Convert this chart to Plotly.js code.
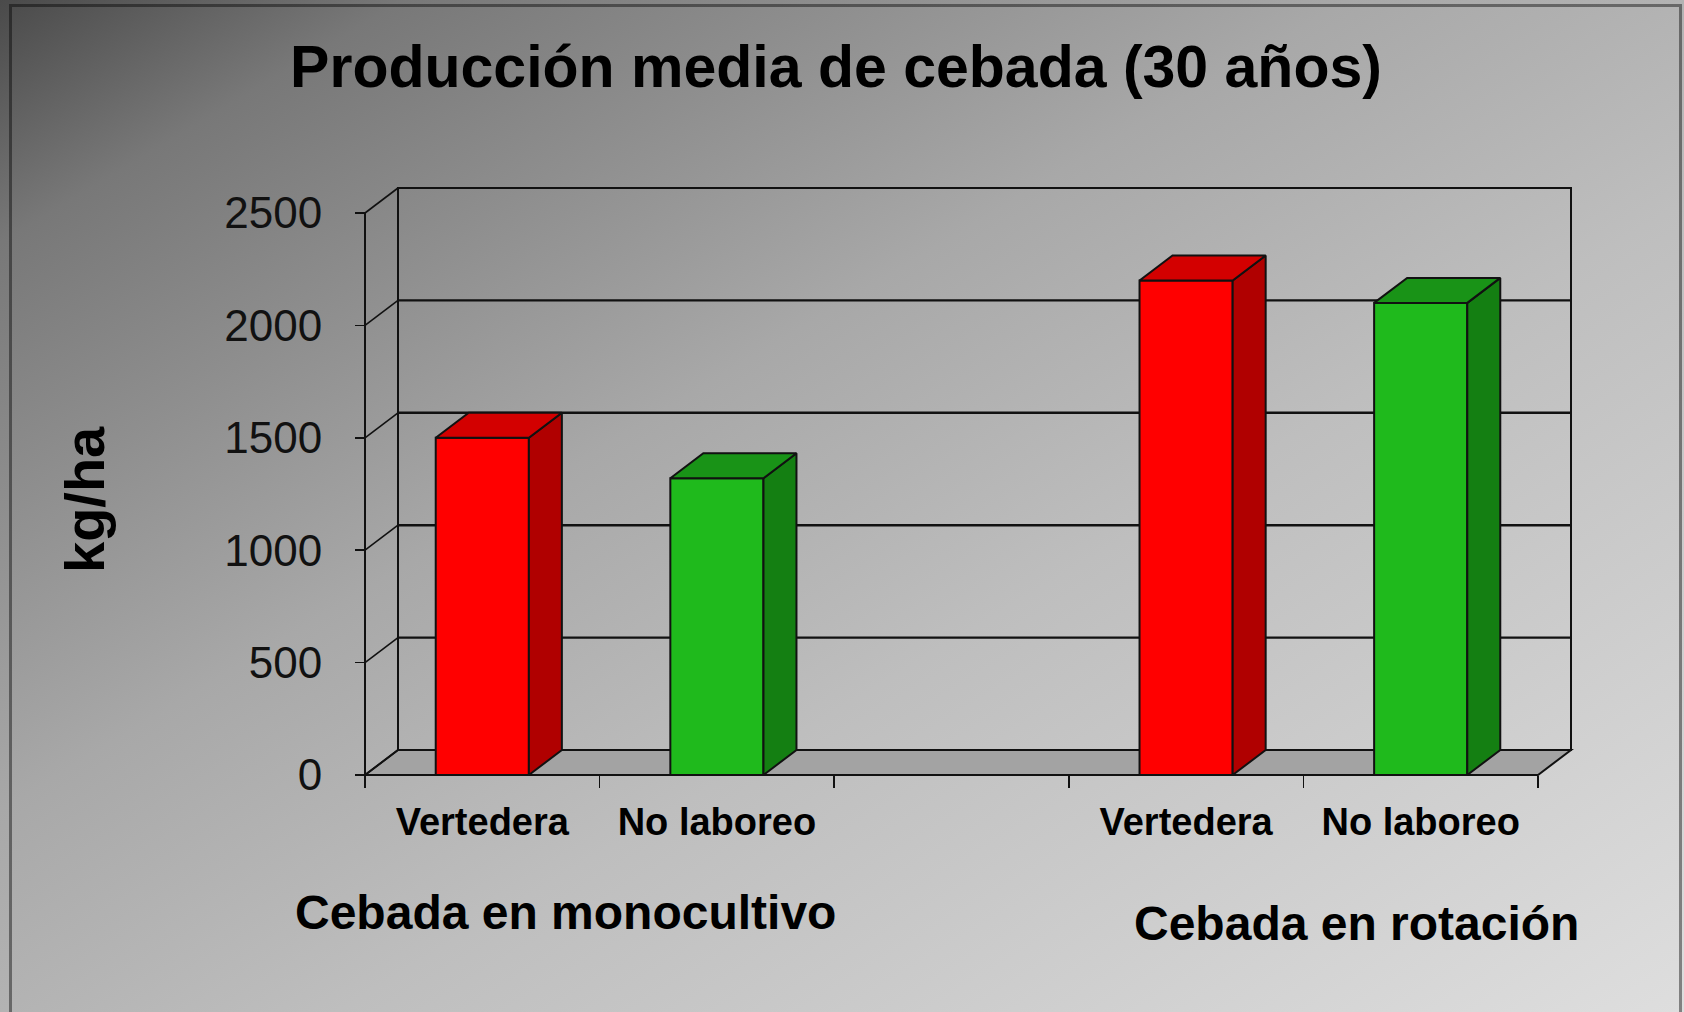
<!DOCTYPE html>
<html>
<head>
<meta charset="utf-8">
<script src="https://cdn.plot.ly/plotly-3.0.1.min.js"></script>
<style>
  html, body { margin: 0; padding: 0; }
  body {
    width: 1684px; height: 1012px; overflow: hidden; position: relative;
    background: linear-gradient(to bottom right, #4a4a4a 0%, #787878 12%, #8e8e8e 25%, #a8a8a8 40%, #bebebe 60%, #dedede 100%);
  }
  #frame {
    position: absolute; left: 9px; top: 4px; width: 1673px; height: 1030px;
    border: 3px solid rgba(0,0,0,0.42); border-bottom: none; box-sizing: border-box;
  }
  #chart { position: absolute; left: 0; top: 0; width: 1684px; height: 1012px; }
</style>
</head>
<body>
<div id="frame"></div>
<div id="chart"></div>
<script>
// Barley yield, 30-year mean (kg/ha), by tillage system and crop sequence
const groups = ["Cebada en monocultivo", "Cebada en rotación"];
const tillage = ["Vertedera", "No laboreo"];
const vertedera = [1500, 2200];
const noLaboreo = [1320, 2100];
const yTicks = [0, 500, 1000, 1500, 2000, 2500];

const seriesValues = [vertedera, noLaboreo];
const faceColors = [
  { front: "#ff0000", side: "#b00000", top: "#d30000" },
  { front: "#1fba1c", side: "#147f12", top: "#199317" }
];

// ---- page and pseudo-3D geometry ----
const W = 1684, H = 1012;
const M = { l: 359, r: 107, t: 182, b: 231 };
const PAD = 6;                       // room around the box so edge lines are not clipped
const DEPTH = { x: 33, y: 25 };      // depth offset of the back wall, in pixels
const FONT = "Liberation Sans, Arial, sans-serif";
const INK = "#111";

const plotW = W - M.l - M.r, plotH = H - M.t - M.b;
const slotsPerGroup = tillage.length + 1;           // one empty slot between groups
const nSlots = groups.length * slotsPerGroup - 1;
const yMax = yTicks[yTicks.length - 1];
const xPer = (plotW - 2 * PAD - DEPTH.x) / nSlots;  // px per category slot
const yPer = (plotH - 2 * PAD - DEPTH.y) / yMax;    // px per kg/ha
const dx = DEPTH.x / xPer, dy = DEPTH.y / yPer;     // depth offset in data units
const x0 = -0.5, x1 = nSlots - 0.5;
const xRange = [x0 - PAD / xPer, x1 + dx + PAD / xPer];
const yRange = [-PAD / yPer, yMax + dy + PAD / yPer];
const BAR_W = 0.397;

const slotX = (gi, k) => gi * slotsPerGroup + k;
const px2paperX = p => (p - M.l) / plotW;
const px2paperY = p => (H - M.b - p) / plotH;

// ---- traces: front faces as bars, side and top faces as filled polygons ----
const traces = [];
seriesValues.forEach((vals, k) => {
  const xs = groups.map((g, gi) => slotX(gi, k));
  traces.push({
    type: "bar", name: tillage[k], x: xs, y: vals, width: BAR_W,
    marker: { color: faceColors[k].front, line: { color: INK, width: 2 } },
    hoverinfo: "skip", showlegend: false
  });
});
seriesValues.forEach((vals, k) => {
  const sx = [], sy = [], tx = [], ty = [];
  groups.forEach((g, gi) => {
    const xc = slotX(gi, k), v = vals[gi];
    const xl = xc - BAR_W / 2, xr = xc + BAR_W / 2;
    sx.push(xr, xr, xr + dx, xr + dx, xr, null);
    sy.push(0, v, v + dy, dy, 0, null);
    tx.push(xl, xr, xr + dx, xl + dx, xl, null);
    ty.push(v, v, v + dy, v + dy, v, null);
  });
  traces.push({
    type: "scatter", mode: "lines", x: sx, y: sy, fill: "toself",
    fillcolor: faceColors[k].side, line: { color: INK, width: 2 },
    hoverinfo: "skip", showlegend: false
  });
  traces.push({
    type: "scatter", mode: "lines", x: tx, y: ty, fill: "toself",
    fillcolor: faceColors[k].top, line: { color: INK, width: 2 },
    hoverinfo: "skip", showlegend: false
  });
});

// ---- box: floor, back wall, gridlines, side-wall edges ----
const line = (xa, ya, xb, yb, w) => ({
  type: "line", xref: "x", yref: "y", layer: "below",
  x0: xa, y0: ya, x1: xb, y1: yb, line: { color: INK, width: w || 2 }
});
const shapes = [];
shapes.push({
  type: "path", xref: "x", yref: "y", layer: "below",
  path: `M ${x0},0 L ${x1},0 L ${x1 + dx},${dy} L ${x0 + dx},${dy} Z`,
  fillcolor: "#a3a3a3", line: { color: INK, width: 2 }
});
shapes.push({
  type: "rect", xref: "x", yref: "y", layer: "below",
  x0: x0 + dx, x1: x1 + dx, y0: dy, y1: yMax + dy,
  line: { color: INK, width: 2 }
});
yTicks.forEach(t => {
  if (t > 0 && t < yMax) shapes.push(line(x0 + dx, t + dy, x1 + dx, t + dy, 2.4));
  shapes.push(line(x0, t, x0 + dx, t + dy, 1.6));
});
shapes.push(line(x0, 0, x0, yMax, 2));

// ---- tick positions ----
const centers = [], labels = [];
groups.forEach((g, gi) => tillage.forEach((t, k) => { centers.push(slotX(gi, k)); labels.push(t); }));
const bounds = [];
for (let i = 0; i <= nSlots; i++) bounds.push(x0 + i);

const layout = {
  width: W, height: H, autosize: false,
  margin: { l: M.l, r: M.r, t: M.t, b: M.b, autoexpand: false },
  paper_bgcolor: "rgba(0,0,0,0)", plot_bgcolor: "rgba(0,0,0,0)",
  barmode: "overlay", hovermode: false,
  font: { family: FONT, color: "#000" },
  title: {
    text: "Producción media de cebada (30 años)",
    font: { family: FONT, size: 59, weight: 700, color: "#000" },
    xref: "container", x: 836 / W, xanchor: "center",
    yref: "container", y: 1 - 66 / H, yanchor: "middle"
  },
  xaxis: {
    range: xRange, domain: [0, 1], anchor: "free",
    position: (0 - yRange[0]) / (yRange[1] - yRange[0]),
    tickmode: "array", tickvals: centers, ticktext: labels, ticks: "",
    tickfont: { family: FONT, size: 38, weight: 700, color: "#000" },
    ticklabelstandoff: 21,
    showgrid: false, zeroline: false, showline: false,
    minor: { tickmode: "array", tickvals: bounds, ticks: "outside", ticklen: 12,
             tickwidth: 1.5, tickcolor: INK, showgrid: false }
  },
  yaxis: {
    range: yRange, domain: [0, 1], anchor: "free",
    position: (x0 - xRange[0]) / (xRange[1] - xRange[0]),
    tickmode: "array", tickvals: yTicks, ticks: "outside", ticklen: 10,
    tickwidth: 1.5, tickcolor: INK,
    tickfont: { family: FONT, size: 44, color: "#111" },
    ticklabelstandoff: 24,
    showgrid: false, zeroline: false, showline: false
  },
  shapes: shapes,
  annotations: [
    { text: "kg/ha", textangle: -90, xref: "paper", yref: "paper",
      x: px2paperX(84), y: px2paperY(500), xanchor: "center", yanchor: "middle",
      showarrow: false, font: { family: FONT, size: 56, weight: 700, color: "#000" } },
    { text: groups[0], xref: "paper", yref: "paper",
      x: px2paperX(565), y: px2paperY(912), xanchor: "center", yanchor: "middle",
      showarrow: false, font: { family: FONT, size: 48, weight: 700, color: "#000" } },
    { text: groups[1], xref: "paper", yref: "paper",
      x: px2paperX(1356), y: px2paperY(923), xanchor: "center", yanchor: "middle",
      showarrow: false, font: { family: FONT, size: 48, weight: 700, color: "#000" } }
  ]
};

Plotly.newPlot("chart", traces, layout, { staticPlot: true, displayModeBar: false });
</script>
</body>
</html>
